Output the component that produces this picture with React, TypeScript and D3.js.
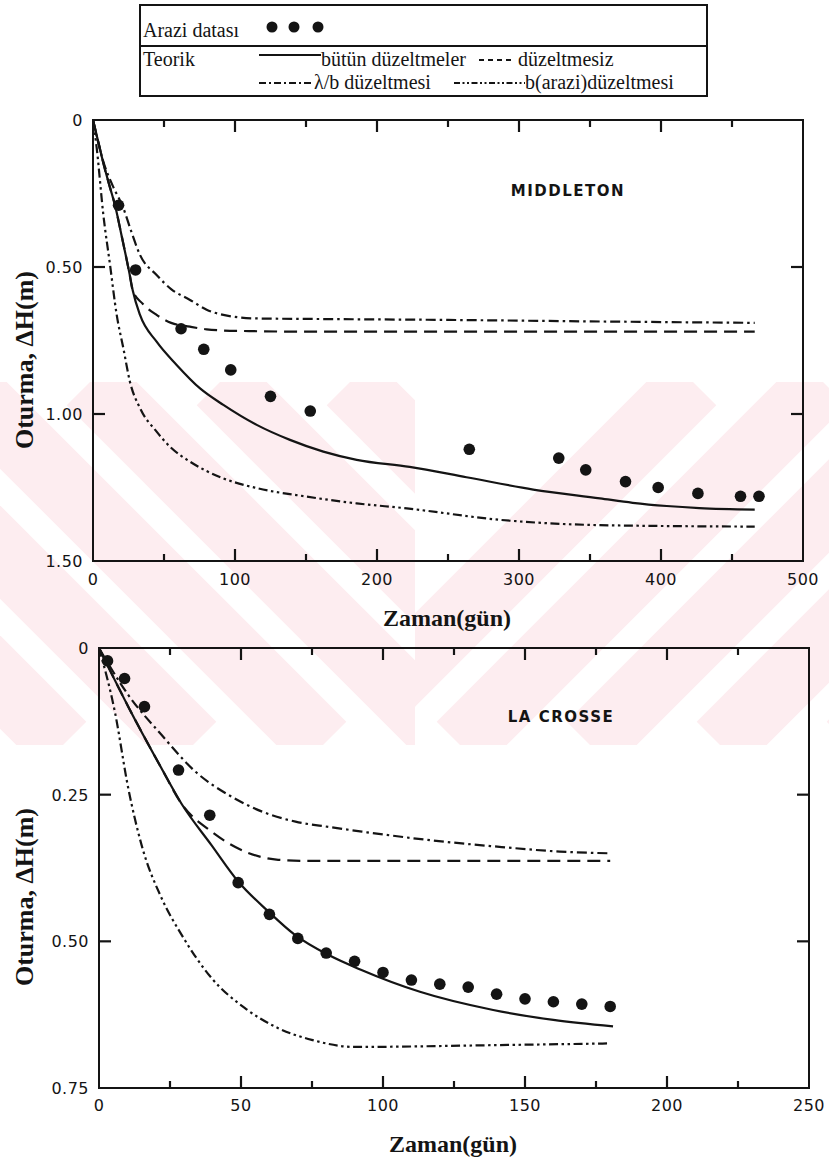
import React, { useEffect, useRef } from "react";
import * as d3 from "d3";

// ---- Middleton (üst grafik) ----
const mdFieldDays = [18, 30, 62, 78, 97, 125, 153, 265, 328, 347, 375, 398, 426, 456, 469];
const mdFieldSettle = [0.29, 0.51, 0.71, 0.78, 0.85, 0.94, 0.99, 1.12, 1.15, 1.19, 1.23, 1.25, 1.27, 1.28, 1.28];

const mdAllDays = [0, 4, 8, 12, 15.5, 20, 25.6, 28, 33.1, 44.8, 58.9, 75.4, 91.8, 115.3, 138.7, 162.2, 185.7, 223, 263, 310, 357, 380, 404, 427, 466];
const mdAllSettle = [0, 0.08, 0.16, 0.23, 0.29, 0.39, 0.52, 0.58, 0.663, 0.754, 0.833, 0.913, 0.969, 1.037, 1.088, 1.128, 1.156, 1.18, 1.215, 1.257, 1.287, 1.302, 1.313, 1.32, 1.325];

const mdNoCorrDays = [0, 4, 8, 12, 15.5, 20, 25.6, 28, 35, 44.8, 55, 68.3, 80, 91.8, 110, 150, 250, 350, 466];
const mdNoCorrSettle = [0, 0.08, 0.16, 0.23, 0.29, 0.39, 0.52, 0.58, 0.625, 0.663, 0.69, 0.703, 0.712, 0.716, 0.718, 0.72, 0.72, 0.72, 0.72];

const mdLambdaDays = [0, 7.3, 14, 21.4, 27, 33.1, 44.8, 55, 68.3, 80, 91.8, 115, 162, 250, 350, 466];
const mdLambdaSettle = [0, 0.142, 0.225, 0.3, 0.38, 0.459, 0.527, 0.575, 0.612, 0.645, 0.663, 0.675, 0.677, 0.68, 0.685, 0.69];

const mdFieldBDays = [0, 2.6, 7.3, 12, 16.7, 21.4, 26, 33.1, 44.8, 55, 68.3, 91.8, 115.3, 150.4, 185.7, 221, 286.6, 357, 466];
const mdFieldBSettle = [0, 0.095, 0.323, 0.493, 0.663, 0.777, 0.89, 0.98, 1.06, 1.115, 1.162, 1.219, 1.252, 1.281, 1.304, 1.321, 1.36, 1.378, 1.383];

// ---- La Crosse (alt grafik) ----
const lcFieldDays = [3, 9, 16, 28, 39, 49, 60, 70, 80, 90, 100, 110, 120, 130, 140, 150, 160, 170, 180];
const lcFieldSettle = [0.022, 0.052, 0.1, 0.208, 0.285, 0.4, 0.454, 0.495, 0.52, 0.534, 0.553, 0.566, 0.573, 0.578, 0.59, 0.598, 0.603, 0.607, 0.611];

const lcAllDays = [0, 10.3, 22, 29, 39.6, 49, 59.6, 69, 80.7, 92, 113, 138.8, 160, 181];
const lcAllSettle = [0, 0.1, 0.205, 0.265, 0.336, 0.398, 0.449, 0.489, 0.523, 0.548, 0.586, 0.617, 0.634, 0.645];

const lcNoCorrDays = [0, 10.3, 22, 29, 39.6, 51.4, 63.1, 74.8, 100, 140, 180];
const lcNoCorrSettle = [0, 0.1, 0.205, 0.265, 0.313, 0.347, 0.361, 0.363, 0.363, 0.363, 0.363];

const lcLambdaDays = [0, 10.3, 22, 34, 45.8, 57.5, 69.2, 80.9, 92.6, 115.4, 138.8, 162.3, 180];
const lcLambdaSettle = [0, 0.08, 0.148, 0.211, 0.251, 0.279, 0.296, 0.305, 0.313, 0.327, 0.338, 0.347, 0.35];

const lcFieldBDays = [0, 5.6, 10.3, 15, 22.1, 29.1, 39.7, 51.4, 63.1, 74.9, 90.1, 138.8, 180];
const lcFieldBSettle = [0, 0.109, 0.239, 0.336, 0.427, 0.489, 0.563, 0.614, 0.648, 0.668, 0.68, 0.677, 0.674];

// tick labels
const mdXLabels = [0, 100, 200, 300, 400, 500];
const mdYLabels = ["0", "0.50", "1.00", "1.50"];
const lcXLabels = [0, 50, 100, 150, 200, 250];
const lcYLabels = ["0", "0.25", "0.50", "0.75"];

type Pt = [number, number];
const zip = (a: number[], b: number[]): Pt[] => a.map((t, i) => [t, b[i]]);

const INK = "#141414";
const dashes = {
  all: null as string | null,
  noCorr: "13,7",
  lambda: "10,4,2.5,4",
  fieldB: "9,3.5,2.5,3.5,2.5,3.5",
};

const App = () => {
  const ref = useRef<SVGSVGElement>(null);

  useEffect(() => {
    const svg = d3.select(ref.current);
    svg.selectAll("*").remove();

    // watermark stripes (faint)
    svg.append("defs").html(
      `<clipPath id="wmL"><rect x="0" y="382" width="415" height="363"/></clipPath>` +
        `<clipPath id="wmR"><rect x="415" y="382" width="414" height="363"/></clipPath>`
    );
    const wm = svg.append("g").attr("stroke", "#fdedf0").attr("stroke-width", 66);
    const wl = wm.append("g").attr("clip-path", "url(#wmL)");
    const wr = wm.append("g").attr("clip-path", "url(#wmR)");
    for (let c = -430; c < 480; c += 130) {
      wl.append("line").attr("x1", c).attr("y1", 382).attr("x2", c + 363).attr("y2", 745);
    }
    for (let c = 330; c < 1250; c += 130) {
      wr.append("line").attr("x1", c).attr("y1", 745).attr("x2", c + 363).attr("y2", 382);
    }

    const drawPanel = (opts: {
      x: d3.ScaleLinear<number, number>;
      y: d3.ScaleLinear<number, number>;
      minor: number[];
      major: number[];
      yTicks: number[];
      xLabels: number[];
      yLabels: string[];
      yLabelX: number;
      xLabelY: number;
      series: { pts: Pt[]; dash: string | null }[];
      field: Pt[];
      name: string;
      nameX: number;
      nameY: number;
      titleY: number;
      xTitleX: number;
      xTitleY: number;
    }) => {
      const { x, y } = opts;
      const [x0, x1] = x.range();
      const [y0, y1] = y.range();
      const g = svg.append("g");

      const line = d3
        .line<Pt>()
        .x(d => x(d[0]))
        .y(d => y(d[1]))
        .curve(d3.curveMonotoneX);

      opts.series.forEach(s => {
        g.append("path")
          .attr("d", line(s.pts))
          .attr("fill", "none")
          .attr("stroke", INK)
          .attr("stroke-width", 2.2)
          .attr("stroke-dasharray", s.dash);
      });

      g.selectAll("circle.f")
        .data(opts.field)
        .enter()
        .append("circle")
        .attr("cx", d => x(d[0]))
        .attr("cy", d => y(d[1]))
        .attr("r", 5.8)
        .attr("fill", INK);

      // frame
      g.append("rect")
        .attr("x", x0)
        .attr("y", y0)
        .attr("width", x1 - x0)
        .attr("height", y1 - y0)
        .attr("fill", "none")
        .attr("stroke", INK)
        .attr("stroke-width", 2);

      // inward ticks on all four sides
      const tg = g.append("g").attr("stroke", INK).attr("stroke-width", 2.2);
      const seg = (ax: number, ay: number, bx: number, by: number) =>
        tg.append("line").attr("x1", ax).attr("y1", ay).attr("x2", bx).attr("y2", by);
      opts.minor.forEach(v => {
        seg(x(v), y0, x(v), y0 + 7);
        seg(x(v), y1, x(v), y1 - 7);
      });
      opts.major.forEach(v => {
        seg(x(v), y0, x(v), y0 + 12);
        seg(x(v), y1, x(v), y1 - 12);
      });
      opts.yTicks.forEach(v => {
        seg(x0, y(v), x0 + 12, y(v));
        seg(x1, y(v), x1 - 12, y(v));
      });

      const lab = g
        .append("g")
        .attr("font-family", "'DejaVu Sans', sans-serif")
        .attr("font-size", 16)
        .attr("letter-spacing", 0.5)
        .attr("fill", INK);
      opts.xLabels.forEach(v => {
        lab.append("text").attr("x", x(v)).attr("y", opts.xLabelY).attr("text-anchor", "middle").text(v);
      });
      const yDom = y.domain();
      opts.yLabels.forEach((t, i) => {
        const v = yDom[0] + ((yDom[1] - yDom[0]) * i) / (opts.yLabels.length - 1);
        lab.append("text")
          .attr("x", opts.yLabelX)
          .attr("y", y(v) + 6)
          .attr("text-anchor", "end")
          .text(t);
      });

      g.append("text")
        .attr("x", opts.nameX)
        .attr("y", opts.nameY)
        .attr("text-anchor", "middle")
        .attr("font-family", "'DejaVu Sans', sans-serif")
        .attr("font-weight", "bold")
        .attr("font-size", 15)
        .attr("letter-spacing", 1.5)
        .attr("fill", INK)
        .text(opts.name);

      g.append("text")
        .attr("transform", `translate(33,${opts.titleY}) rotate(-90)`)
        .attr("text-anchor", "middle")
        .attr("font-family", "'Liberation Serif', serif")
        .attr("font-weight", "bold")
        .attr("font-size", 26)
        .attr("fill", INK)
        .text("Oturma, ΔH(m)");

      g.append("text")
        .attr("x", opts.xTitleX)
        .attr("y", opts.xTitleY)
        .attr("text-anchor", "middle")
        .attr("font-family", "'Liberation Serif', serif")
        .attr("font-weight", "bold")
        .attr("font-size", 24)
        .attr("fill", INK)
        .text("Zaman(gün)");
    };

    drawPanel({
      x: d3.scaleLinear().domain([0, 500]).range([93, 803]),
      y: d3.scaleLinear().domain([0, 1.5]).range([120, 561]),
      minor: [50, 150, 250, 350, 450],
      major: [100, 200, 300, 400],
      yTicks: [0.5, 1.0],
      xLabels: mdXLabels,
      yLabels: mdYLabels,
      yLabelX: 83,
      xLabelY: 585,
      series: [
        { pts: zip(mdAllDays, mdAllSettle), dash: dashes.all },
        { pts: zip(mdNoCorrDays, mdNoCorrSettle), dash: dashes.noCorr },
        { pts: zip(mdLambdaDays, mdLambdaSettle), dash: dashes.lambda },
        { pts: zip(mdFieldBDays, mdFieldBSettle), dash: dashes.fieldB },
      ],
      field: zip(mdFieldDays, mdFieldSettle),
      name: "MIDDLETON",
      nameX: 568,
      nameY: 196,
      titleY: 360,
      xTitleX: 447,
      xTitleY: 626,
    });

    drawPanel({
      x: d3.scaleLinear().domain([0, 250]).range([99, 809]),
      y: d3.scaleLinear().domain([0, 0.75]).range([648, 1088]),
      minor: [25, 75, 125, 175, 225],
      major: [50, 100, 150, 200],
      yTicks: [0.25, 0.5],
      xLabels: lcXLabels,
      yLabels: lcYLabels,
      yLabelX: 89,
      xLabelY: 1111,
      series: [
        { pts: zip(lcAllDays, lcAllSettle), dash: dashes.all },
        { pts: zip(lcNoCorrDays, lcNoCorrSettle), dash: dashes.noCorr },
        { pts: zip(lcLambdaDays, lcLambdaSettle), dash: dashes.lambda },
        { pts: zip(lcFieldBDays, lcFieldBSettle), dash: dashes.fieldB },
      ],
      field: zip(lcFieldDays, lcFieldSettle),
      name: "LA CROSSE",
      nameX: 561,
      nameY: 722,
      titleY: 897,
      xTitleX: 453,
      xTitleY: 1152,
    });

    // Legend
    const lg = svg.append("g").attr("font-family", "'Liberation Serif', serif").attr("font-size", 20).attr("fill", INK);
    lg.append("rect")
      .attr("x", 140).attr("y", 5).attr("width", 567).attr("height", 91)
      .attr("fill", "#fff").attr("stroke", INK).attr("stroke-width", 2);
    lg.append("line").attr("x1", 140).attr("x2", 707).attr("y1", 46).attr("y2", 46)
      .attr("stroke", INK).attr("stroke-width", 2);
    lg.append("text").attr("x", 143).attr("y", 37).text("Arazi datası");
    [272, 294, 318].forEach(cx => lg.append("circle").attr("cx", cx).attr("cy", 27).attr("r", 5.5));
    lg.append("text").attr("x", 143).attr("y", 66).text("Teorik");

    const sample = (xa: number, xb: number, yy: number, dash: string | null) =>
      lg.append("line").attr("x1", xa).attr("x2", xb).attr("y1", yy).attr("y2", yy)
        .attr("stroke", INK).attr("stroke-width", 2).attr("stroke-dasharray", dash);
    sample(259, 321, 55, dashes.all);
    lg.append("text").attr("x", 321).attr("y", 66).text("bütün düzeltmeler");
    sample(479, 514, 60, "5,4");
    lg.append("text").attr("x", 518).attr("y", 66).text("düzeltmesiz");
    sample(259, 314, 83, "7,3,2,3");
    lg.append("text").attr("x", 314).attr("y", 89).text("λ/b düzeltmesi");
    sample(454, 525, 83, "6,2.5,2,2.5,2,2.5");
    lg.append("text").attr("x", 525).attr("y", 89).text("b(arazi)düzeltmesi");
  }, []);

  return (
    <svg
      ref={ref}
      width={829}
      height={1167}
      style={{ position: "absolute", left: 0, top: 0, background: "#fff" }}
    />
  );
};

export default App;
